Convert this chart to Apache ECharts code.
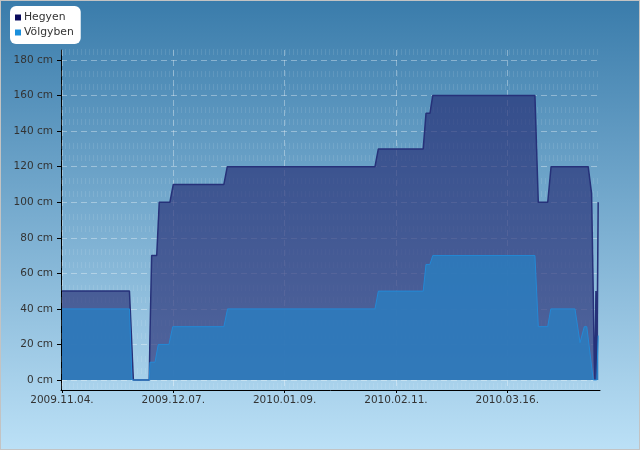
<!DOCTYPE html>
<html>
<head>
<meta charset="utf-8">
<script src="https://cdn.jsdelivr.net/npm/echarts@6/dist/echarts.min.js"></script>
<style>
html, body { margin: 0; padding: 0; }
#chart {
  width: 640px;
  height: 450px;
  box-sizing: border-box;
  border: 1px solid #c3c3c3;
}
</style>
</head>
<body>
<div id="chart"></div>
<script>
// hó vastagság (cm)
const hegyen = [
  ['2009-11-04 00:00', 50],
  ['2009-11-24 00:00', 50],
  ['2009-11-25 04:00', 0],
  ['2009-11-29 21:00', 0],
  ['2009-11-30 02:00', 25],
  ['2009-11-30 14:00', 70],
  ['2009-12-02 02:00', 70],
  ['2009-12-02 20:00', 100],
  ['2009-12-06 00:00', 100],
  ['2009-12-07 00:00', 110],
  ['2009-12-22 00:00', 110],
  ['2009-12-23 00:00', 120],
  ['2010-02-04 19:00', 120],
  ['2010-02-05 19:00', 130],
  ['2010-02-19 02:00', 130],
  ['2010-02-19 22:00', 150],
  ['2010-02-21 02:00', 150],
  ['2010-02-21 22:00', 160],
  ['2010-03-24 05:00', 160],
  ['2010-03-25 05:00', 100],
  ['2010-03-28 00:00', 100],
  ['2010-03-29 00:00', 120],
  ['2010-04-09 00:00', 120],
  ['2010-04-10 00:00', 105],
  ['2010-04-10 12:00', 49],
  ['2010-04-10 19:00', 11],
  ['2010-04-11 00:00', 0],
  ['2010-04-11 07:00', 50],
  ['2010-04-11 13:00', 0],
  ['2010-04-11 23:00', 100]
];

const volgyben = [
  ['2009-11-04 00:00', 40],
  ['2009-11-24 00:00', 40],
  ['2009-11-24 18:00', 0],
  ['2009-11-29 21:00', 0],
  ['2009-11-30 02:00', 10],
  ['2009-12-01 14:00', 10],
  ['2009-12-02 13:00', 20],
  ['2009-12-05 17:00', 20],
  ['2009-12-06 20:00', 30],
  ['2009-12-22 00:00', 30],
  ['2009-12-23 02:00', 40],
  ['2010-02-04 19:00', 40],
  ['2010-02-05 19:00', 50],
  ['2010-02-19 02:00', 50],
  ['2010-02-19 22:00', 65],
  ['2010-02-21 02:00', 65],
  ['2010-02-21 22:00', 70],
  ['2010-03-24 05:00', 70],
  ['2010-03-25 05:00', 30],
  ['2010-03-28 00:00', 30],
  ['2010-03-28 22:00', 40],
  ['2010-04-05 02:00', 40],
  ['2010-04-06 14:00', 21],
  ['2010-04-07 20:00', 30],
  ['2010-04-08 14:00', 30],
  ['2010-04-10 12:00', 0],
  ['2010-04-11 13:00', 0],
  ['2010-04-11 23:00', 25]
];

const xTickDates = ['2009-11-04', '2009-12-07', '2010-01-09', '2010-02-11', '2010-03-16'];
const yTicks = [0, 20, 40, 60, 80, 100, 120, 140, 160, 180];
// háttér mintázat sorai
const textureRows = [184.5, 172, 165, 152, 145, 132, 125, 112, 105, 92, 85, 72, 65, 52, 45, 32, 25, 12, 5, -3.5];

const parse = s => echarts.number.parseDate(s).getTime();
const toPoints = arr => arr.map(p => [parse(p[0]), p[1]]);
const xTickValues = xTickDates.map(parse);
const pad = n => (n < 10 ? '0' : '') + n;
const FONT = 'DejaVu Sans';

const chart = echarts.init(document.getElementById('chart'));
chart.setOption({
  animation: false,
  backgroundColor: new echarts.graphic.LinearGradient(0, 0, 0, 1, [
    { offset: 0, color: '#3a7cab' },
    { offset: 1, color: '#bbe0f6' }
  ]),
  legend: {
    orient: 'vertical',
    left: 9,
    top: 5,
    backgroundColor: '#ffffff',
    borderRadius: 6,
    padding: [5, 7, 5, 5],
    itemWidth: 6,
    itemHeight: 6,
    itemGap: 2,
    icon: 'rect',
    textStyle: { fontFamily: FONT, fontSize: 10.8, color: '#333', lineHeight: 13, padding: [0, 0, 0, -2] },
    data: [
      { name: 'Hegyen', itemStyle: { color: '#0b0b5c' } },
      { name: 'Völgyben', itemStyle: { color: '#1a8fdc' } }
    ]
  },
  grid: { left: 60, right: 39, top: 49, bottom: 59 },
  xAxis: {
    type: 'value',
    min: parse('2009-11-03 17:00'),
    max: parse('2010-04-12 12:00'),
    axisLine: { onZero: false, lineStyle: { color: '#000', width: 1 } },
    axisTick: { customValues: xTickValues, length: 3, lineStyle: { color: '#000' } },
    axisLabel: {
      customValues: xTickValues,
      fontFamily: FONT,
      fontSize: 10.5,
      color: '#333',
      margin: 5,
      formatter: v => {
        const d = new Date(v);
        return d.getFullYear() + '.' + pad(d.getMonth() + 1) + '.' + pad(d.getDate()) + '.';
      }
    },
    splitLine: {
      show: true,
      customValues: xTickValues,
      lineStyle: { type: [6, 4], color: 'rgba(255,255,255,0.35)' }
    }
  },
  yAxis: {
    type: 'value',
    min: -5.625,
    max: 185.625,
    axisLine: { show: true, lineStyle: { color: '#000', width: 1 } },
    axisTick: { show: true, customValues: yTicks, length: 4, lineStyle: { color: '#000' } },
    axisLabel: {
      customValues: yTicks,
      fontFamily: FONT,
      fontSize: 10.5,
      color: '#333',
      margin: 8,
      formatter: v => v + ' cm'
    },
    splitLine: {
      show: true,
      customValues: yTicks,
      lineStyle: { type: [6, 4], color: 'rgba(255,255,255,0.35)' }
    }
  },
  series: [
    {
      // csak a háttér mintázata
      name: 'minta',
      type: 'line',
      data: [],
      z: 1,
      silent: true,
      markLine: {
        z: 1,
        silent: true,
        symbol: 'none',
        label: { show: false },
        lineStyle: { width: 6, type: [1, 3], color: 'rgba(255,255,255,0.1)' },
        data: textureRows.map(v => ({ yAxis: v }))
      }
    },
    {
      name: 'Hegyen',
      type: 'line',
      data: toPoints(hegyen),
      z: 2,
      symbol: 'none',
      lineStyle: { color: '#263179', width: 1.5 },
      itemStyle: { color: '#0b0b5c' },
      areaStyle: { color: 'rgba(36,44,116,0.66)', opacity: 1 }
    },
    {
      name: 'Völgyben',
      type: 'line',
      data: toPoints(volgyben),
      z: 3,
      symbol: 'none',
      lineStyle: { color: '#2389d6', width: 1 },
      itemStyle: { color: '#1a8fdc' },
      areaStyle: { color: 'rgba(43,124,190,0.85)', opacity: 1 }
    }
  ]
});
</script>
</body>
</html>
